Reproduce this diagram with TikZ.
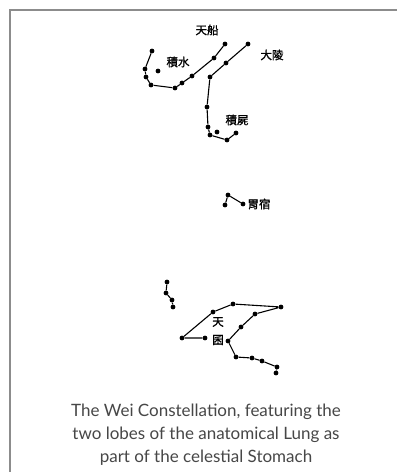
\documentclass[tikz,border=0pt]{standalone}
\usepackage{fontspec}
\setmainfont{Lato}
\newfontfamily\cjk[FakeBold=1.2]{Noto Sans CJK TC}
\begin{document}
\begin{tikzpicture}[x=1pt,y=-1pt,
  star/.style={circle,fill=black,inner sep=0pt,minimum size=4.8pt},
  link/.style={black,line width=1.1pt},
  lab/.style={font=\cjk\fontsize{11.5}{12}\selectfont,inner sep=0pt},
  captext/.style={font=\fontsize{17}{23}\selectfont,text=black!72,align=center,inner sep=0pt}]
\useasboundingbox (0,0) rectangle (397,472);
\fill[white] (0,0) rectangle (397,472);
\draw[black!45,line width=2pt] (10,472) -- (10,10) -- (397,10);
% chain 1 (積水)
\foreach \n/\x/\y in {a1/152/51,a2/145/69,a3/146/77,a4/151/85,a5/175/88,a6/182/83,a7/192/76,a8/214/58,a9/225/44,a0/158/71}
  \node[star] (\n) at (\x,\y) {};
\draw[link] (a1)--(a2)--(a3)--(a4)--(a5)--(a6)--(a7)--(a8)--(a9);
% chain 2 (大陵 / 積屍)
\foreach \n/\x/\y in {b1/248/44,b2/226/63,b3/210/77,b4/207/107,b5/208/127,b6/210/135,b7/227/140,b8/236/133,b0/217/132}
  \node[star] (\n) at (\x,\y) {};
\draw[link] (b1)--(b2)--(b3)--(b4)--(b5)--(b6)--(b7)--(b8);
% 胃宿
\foreach \n/\x/\y in {c1/225/205,c2/228/195,c3/243/204}
  \node[star] (\n) at (\x,\y) {};
\draw[link] (c1)--(c2)--(c3);
% small chain
\foreach \n/\x/\y in {d1/167/282,d2/166/293,d3/172/300,d4/173/307}
  \node[star] (\n) at (\x,\y) {};
\draw[link] (d1)--(d2)--(d3)--(d4);
% 天囷
\foreach \n/\x/\y in {e1/205/338,e2/182/338,e3/213/312,e4/233/304,e5/281/307,e6/255/314,e7/241/327,e8/228/341,e9/236/357,e10/252/358,e11/262/361,e12/277/367,e13/276/373}
  \node[star] (\n) at (\x,\y) {};
\draw[link] (e1)--(e2)--(e3)--(e4)--(e5)--(e6)--(e7)--(e8)--(e9)--(e10)--(e11)--(e12)--(e13);
% labels
\node[lab] (l1) at (207,30) {天船};
\node[lab] (l2) at (178,62) {積水};
\node[lab] (l3) at (272,55) {大陵};
\node[lab] (l4) at (237,120) {積屍};
\node[lab] (l5) at (259,204) {胃宿};
\node[lab] (l6) at (218,322) {天};
\node[lab] (l7) at (218,340) {囷};
\node[captext] (cp) at (206,435) {The Wei Constellation, featuring the\\two lobes of the anatomical Lung as\\part of the celestial Stomach};
\end{tikzpicture}
\end{document}
